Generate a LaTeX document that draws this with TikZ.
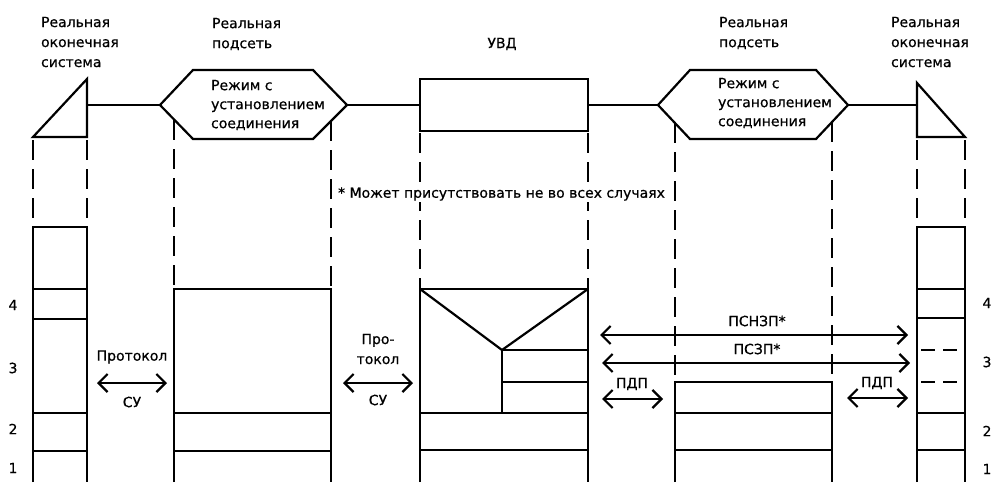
\documentclass[tikz,border=0pt]{standalone}
\usepackage{fontspec}
\setmainfont[FakeBold=0.6]{DejaVu Sans}
\usetikzlibrary{arrows.meta}
\begin{document}
\begin{tikzpicture}[x=1pt,y=-1pt, line width=2.2pt,
  lbl/.style={font=\fontsize{14}{20}\selectfont, inner sep=0pt, align=left, anchor=west},
  hextext/.style={font=\fontsize{14}{19}\selectfont, inner sep=0pt, align=left, anchor=west},
  ctext/.style={font=\fontsize{14}{20}\selectfont, inner sep=0pt, align=center},
  dsh/.style={dash pattern=on 20pt off 9pt},
  dshort/.style={dash pattern=on 14pt off 8pt},
  arr/.style={{Straight Barb[length=9pt,width=18pt]}-{Straight Barb[length=9pt,width=18pt]}},
  num/.style={font=\fontsize{14}{16}\selectfont, inner sep=0pt}]
\useasboundingbox (0,0) rectangle (998,482);

% ---------- top labels ----------
\node[lbl] (l1) at (40,42) {Реальная\\оконечная\\система};
\node[lbl] (l2) at (211,34) {Реальная\\подсеть};
\node[ctext] (l3) at (502,44) {УВД};
\node[lbl] (l4) at (718,33) {Реальная\\подсеть};
\node[lbl] (l5) at (890,42) {Реальная\\оконечная\\система};

% ---------- left end system ----------
\coordinate (es1r) at (87,105);
\draw (87,79) -- (33,137) -- (87,137) -- cycle;
\draw[dsh] (33,140) -- (33,227);
\draw[dsh] (87,140) -- (87,227);
\draw (33,482) -- (33,227) -- (87,227) -- (87,482);
\foreach \yy in {289,319,413,451} \draw (33,\yy) -- (87,\yy);

% ---------- subnet 1 ----------
\coordinate (h1l) at (160,105);
\coordinate (h1r) at (347,105);
\draw (h1l) -- (193,70) -- (313,70) -- (h1r) -- (313,139) -- (193,139) -- cycle;
\node[hextext] (h1t) at (210,105) {Режим с\\установлением\\соединения};
\draw (es1r) -- (h1l);
\draw[dsh] (174,120) -- (174,289);
\draw[dsh] (331,121) -- (331,289);
\draw (174,482) -- (174,289) -- (331,289) -- (331,482);
\draw (174,413) -- (331,413);
\draw (174,451) -- (331,451);

% ---------- UVD ----------
\node[draw, minimum width=168pt, minimum height=52pt, inner sep=0pt] (uvd) at (504,105) {};
\draw (h1r) -- (uvd.west);
\draw[dsh] (420,133) -- (420,289);
\draw[dsh] (588,133) -- (588,289);
\draw (420,482) -- (420,289) -- (588,289) -- (588,482);
\draw (420,289) -- (502,350) -- (588,289);
\draw (502,350) -- (502,413);
\draw (502,350) -- (588,350);
\draw (502,382) -- (588,382);
\draw (420,413) -- (588,413);
\draw (420,450) -- (588,450);

% ---------- subnet 2 ----------
\coordinate (h2l) at (658,105);
\coordinate (h2r) at (848,105);
\draw (h2l) -- (690,70) -- (816,70) -- (h2r) -- (816,139) -- (690,139) -- cycle;
\node[hextext] (h2t) at (717,103) {Режим с\\установлением\\соединения};
\draw (uvd.east) -- (h2l);
\draw[dsh] (675,123) -- (675,382);
\draw[dsh] (832,122) -- (832,382);
\draw (675,482) -- (675,382) -- (832,382) -- (832,482);
\draw (675,413) -- (832,413);
\draw (675,450) -- (832,450);

% ---------- right end system ----------
\coordinate (es2l) at (917,105);
\draw (917,83) -- (917,137) -- (965,137) -- cycle;
\draw (h2r) -- (es2l);
\draw[dsh] (917,140) -- (917,227);
\draw[dsh] (965,140) -- (965,227);
\draw (917,482) -- (917,227) -- (965,227) -- (965,482);
\foreach \yy in {289,318,413,450} \draw (917,\yy) -- (965,\yy);
\draw[dshort] (921,350) -- (963,350);
\draw[dshort] (921,382) -- (963,382);

% ---------- footnote ----------
\node[font=\fontsize{14}{16}\selectfont, inner sep=1pt, anchor=west, fill=white] (fn) at (336,194) {* Может присутствовать не во всех случаях};

% ---------- protocol arrows ----------
\coordinate (a1l) at (97,383);
\coordinate (a1r) at (167,383);
\draw[arr] (a1l) -- (a1r);
\node[ctext] (p1a) at (132,357) {Протокол};
\node[ctext] (p1b) at (132,402) {СУ};

\coordinate (a2l) at (343,383);
\coordinate (a2r) at (413,383);
\draw[arr] (a2l) -- (a2r);
\node[ctext] (p2a) at (378,349) {Про-\\токол};
\node[ctext] (p2b) at (378,400) {СУ};

\coordinate (a3l) at (600,335);
\coordinate (a3r) at (908,335);
\draw[arr] (a3l) -- (a3r);
\node[ctext] (p3) at (757,321) {ПСНЗП*};

\coordinate (a4l) at (602,363);
\coordinate (a4r) at (910,363);
\draw[arr] (a4l) -- (a4r);
\node[ctext] (p4) at (757,349) {ПСЗП*};

\coordinate (a5l) at (602,399);
\coordinate (a5r) at (663,399);
\draw[arr] (a5l) -- (a5r);
\node[ctext] (p5) at (632,384) {ПДП};

\coordinate (a6l) at (847,398);
\coordinate (a6r) at (908,398);
\draw[arr] (a6l) -- (a6r);
\node[ctext] (p6) at (877,383) {ПДП};

% ---------- layer numbers ----------
\node[num] (n4l) at (13,305) {4};
\node[num] (n3l) at (13,368) {3};
\node[num] (n2l) at (13,429) {2};
\node[num] (n1l) at (13,468) {1};
\node[num] (n4r) at (987,303) {4};
\node[num] (n3r) at (987,362) {3};
\node[num] (n2r) at (987,431) {2};
\node[num] (n1r) at (987,469) {1};
\end{tikzpicture}
\end{document}
